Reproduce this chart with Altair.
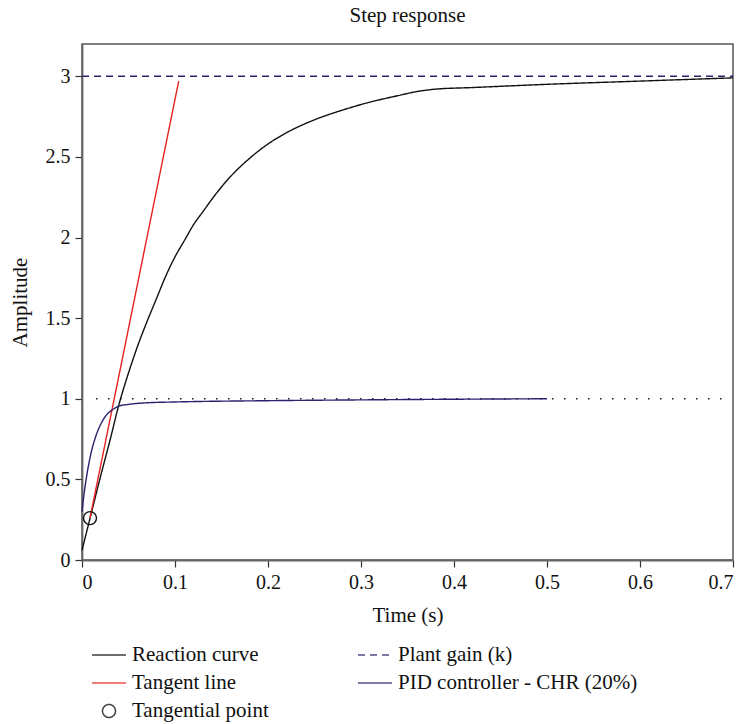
import altair as alt
import pandas as pd

# ---- data ----
reaction_t = [0.0, 0.01, 0.02, 0.03, 0.04, 0.05, 0.06, 0.07, 0.08, 0.09, 0.10, 0.11, 0.12, 0.13,
              0.14, 0.16, 0.18, 0.20, 0.22, 0.25, 0.28, 0.31, 0.34, 0.36, 0.38, 0.42, 0.50, 0.60, 0.70]
reaction_y = [0.06, 0.29, 0.52, 0.74, 0.97, 1.16, 1.33, 1.48, 1.62, 1.76, 1.88, 1.98, 2.08, 2.16,
              2.24, 2.38, 2.49, 2.58, 2.65, 2.73, 2.79, 2.84, 2.88, 2.905, 2.92, 2.93, 2.95, 2.97, 2.99]

pid_t = [0.0, 0.002, 0.005, 0.01, 0.015, 0.02, 0.025, 0.03, 0.035, 0.04, 0.05, 0.07, 0.1, 0.2, 0.3, 0.4, 0.5]
pid_y = [0.30, 0.40, 0.52, 0.67, 0.77, 0.84, 0.89, 0.92, 0.94, 0.955, 0.965, 0.975, 0.98, 0.988, 0.993, 0.997, 1.0]

tangent_t = [0.0086, 0.104]
tangent_y = [0.26, 2.97]

gain_t = [0.0, 0.7]
gain_y = [3.0, 3.0]

setpoint_t = [0.015, 0.69]
setpoint_y = [1.0, 1.0]

point_t = [0.0086]
point_y = [0.26]

series = ["Reaction curve", "Plant gain (k)", "Tangent line",
          "PID controller - CHR (20%)", "Tangential point"]

x_ticks = [0, 0.1, 0.2, 0.3, 0.4, 0.5, 0.6, 0.7]
y_ticks = [0, 0.5, 1, 1.5, 2, 2.5, 3]

# ---- styles ----
colors = ["#111111", "#24246e", "#e8231f", "#27236f", "#111111"]
dashes = [[1, 0], [7, 5], [1, 0], [1, 0], [1, 0]]
line_path = "M-1.7,0L1.7,0"
circle_path = "M-0.65,0A0.65,0.65,0,1,1,0.65,0A0.65,0.65,0,1,1,-0.65,0Z"
shapes = [line_path, line_path, line_path, line_path, circle_path]
FONT = "Liberation Serif"

lines_df = pd.concat([
    pd.DataFrame({"t": reaction_t, "y": reaction_y, "series": series[0]}),
    pd.DataFrame({"t": gain_t, "y": gain_y, "series": series[1]}),
    pd.DataFrame({"t": tangent_t, "y": tangent_y, "series": series[2]}),
    pd.DataFrame({"t": pid_t, "y": pid_y, "series": series[3]}),
], ignore_index=True)
point_df = pd.DataFrame({"t": point_t, "y": point_y, "series": series[4]})
setpoint_df = pd.DataFrame({"t": setpoint_t, "y": setpoint_y})

x_enc = alt.X("t:Q", scale=alt.Scale(domain=[0, 0.7], nice=False, zero=False),
              axis=alt.Axis(values=x_ticks, format="~g", title="Time (s)",
                            titleY=55, titleBaseline="middle"))
y_enc = alt.Y("y:Q", scale=alt.Scale(domain=[0, 3.2], nice=False),
              axis=alt.Axis(values=y_ticks, format="~g", title="Amplitude",
                            titleX=-62, titleY=258, titleAngle=-90,
                            titleBaseline="middle", titleAlign="center"))

legend = alt.Legend(title=None, orient="none", legendX=16, legendY=600,
                    columns=2, direction="horizontal", columnPadding=86, rowPadding=7,
                    symbolSize=400, symbolStrokeWidth=1.5, symbolOpacity=0.8,
                    labelFont=FONT, labelFontSize=21, labelColor="#111111",
                    labelOffset=12, labelLimit=400)

color_enc = alt.Color("series:N", scale=alt.Scale(domain=series, range=colors), legend=legend)
dash_enc = alt.StrokeDash("series:N", scale=alt.Scale(domain=series, range=dashes), legend=legend)
shape_enc = alt.Shape("series:N", scale=alt.Scale(domain=series, range=shapes), legend=legend)

setpoint = alt.Chart(setpoint_df).mark_line(
    color="#222222", strokeWidth=1.6, strokeDash=[1.6, 10.4]
).encode(x=x_enc, y=y_enc)

lines = alt.Chart(lines_df).mark_line(strokeWidth=1.4, interpolate="monotone").encode(
    x=x_enc, y=y_enc, color=color_enc, strokeDash=dash_enc
)

point = alt.Chart(point_df).mark_point(filled=False, size=400, strokeWidth=1.4, opacity=1).encode(
    x=x_enc, y=y_enc, color=color_enc, shape=shape_enc
)

chart = alt.layer(setpoint, lines, point).properties(
    width=651, height=516,
    background="white",
    title=alt.TitleParams("Step response", font=FONT, fontSize=21, fontWeight="normal",
                          color="#111111", frame="group", anchor="middle", offset=18),
    autosize=alt.AutoSizeParams(type="none"),
    padding={"left": 82, "top": 44, "right": 12, "bottom": 164},
).configure_view(
    stroke="#555555", strokeWidth=1.5
).configure_axis(
    grid=False, domainColor="#666666", domainWidth=1.8,
    tickColor="#333333", tickWidth=1.2, tickSize=7,
    labelFont=FONT, labelFontSize=20, labelColor="#111111", labelPadding=5,
    titleFont=FONT, titleFontSize=21, titleFontWeight="normal", titleColor="#111111"
)

chart.save("out.html", embed_options={"renderer": "svg", "actions": False})
